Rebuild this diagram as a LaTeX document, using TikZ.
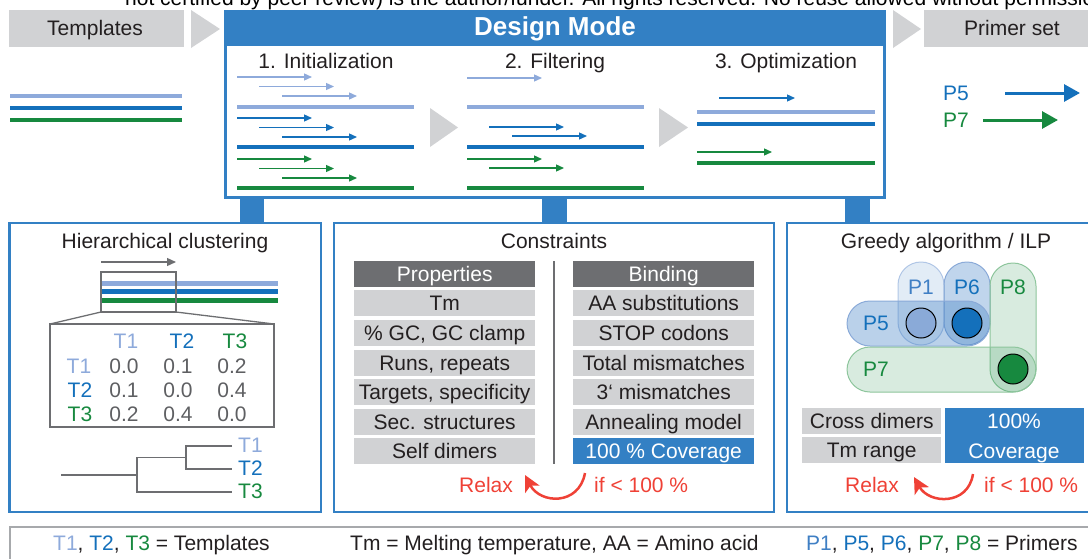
\documentclass[tikz,border=0pt]{standalone}
\usepackage{fontspec}
\setmainfont{Liberation Sans}
\usetikzlibrary{arrows.meta}
\definecolor{lblue}{HTML}{8EAADB}
\definecolor{dblue}{HTML}{1470BB}
\definecolor{tgreen}{HTML}{17893F}
\definecolor{boxblue}{HTML}{3380C4}
\definecolor{lgray}{HTML}{D1D2D4}
\definecolor{dgray}{HTML}{6D6E71}
\definecolor{numgray}{HTML}{5E5F62}
\definecolor{tdark}{HTML}{231F20}
\definecolor{relaxred}{HTML}{EF4136}
\definecolor{pblue}{HTML}{3F7FC4}
\definecolor{pborder}{HTML}{8AAAD8}
\definecolor{p1border}{HTML}{B0C6E6}
\definecolor{gborder}{HTML}{8DC59C}
\definecolor{footgray}{HTML}{A7A9AC}
\begin{document}
\begin{tikzpicture}[x=1pt,y=-1pt,
  every node/.style={inner sep=0pt, font=\fontsize{21}{25}\selectfont, text=tdark},
  lbl/.style={anchor=base},
  lblw/.style={anchor=base west},
  cell/.style={fill=lgray, minimum width=181pt, minimum height=26pt, text height=15pt, text depth=0pt, anchor=north west},
  headcell/.style={cell, fill=dgray, text=white},
  bluecell/.style={cell, fill=boxblue, text=white},
  tmpl/.style={line width=4.5pt},
  primer/.style={line width=1.3pt, -{Triangle[length=8pt,width=7pt]}},
  bigprimer/.style={line width=3pt, -{Triangle[length=16pt,width=17pt]}},
  panel/.style={draw=boxblue, line width=2.5pt},
  stub/.style={fill=boxblue},
  gline/.style={draw=dgray, line width=1.3pt},
  relaxarrow/.style={draw=relaxred, line width=2.5pt, -{Stealth[length=16pt,width=16pt,inset=4pt]}},
  redtxt/.style={anchor=base west, text=relaxred},
  blob/.style={rounded corners=23pt, line width=1pt},
]
\useasboundingbox (0,0) rectangle (1088,558);

% cropped header text
\begin{scope}
\clip (0,0) rectangle (1088,9);
\node[lblw, text=black] (wm) at (125,5.5) {not certified by peer review) is the author/funder. All rights reserved. No reuse allowed without permission.};
\end{scope}

% ---------- top row ----------
\fill[lgray] (9,10) rectangle (184,47);
\node[lbl] (templates) at (95,35) {Templates};
\fill[lgray] (191,10) -- (220,29) -- (191,48) -- cycle;
\fill[lgray] (893,10) -- (921,29) -- (893,48) -- cycle;
\fill[lgray] (924,10) rectangle (1100,47);
\node[lbl] (primerset) at (1012,35) {Primer set};

% template lines
\draw[tmpl, lblue] (10,96) -- (182,96);
\draw[tmpl, dblue] (10,108) -- (182,108);
\draw[tmpl, tgreen] (10,120) -- (182,120);

% design mode box
\draw[boxblue, line width=3pt] (225,11) rectangle (884,197);
\fill[boxblue] (224,10) rectangle (885,46);
\node[lbl, text=white, font=\fontsize{26}{30}\selectfont\bfseries] (design) at (555,35) {Design Mode};
\node[lbl] (init) at (326,68) {1. Initialization};
\node[lbl] (filt) at (555,68) {2. Filtering};
\node[lbl] (opti) at (786,68) {3. Optimization};

% initialization
\foreach \c/\y in {lblue/77, dblue/118, tgreen/159}{
  \draw[primer, \c] (237,\y) -- (312,\y);
  \draw[primer, \c] (259,\y+9.5) -- (334,\y+9.5);
  \draw[primer, \c] (282,\y+19) -- (357,\y+19);
}
\draw[tmpl, lblue] (237,107) -- (414,107);
\draw[tmpl, dblue] (237,147) -- (414,147);
\draw[tmpl, tgreen] (237,188) -- (414,188);

% filtering
\fill[lgray] (430,108) -- (458,127.5) -- (430,147) -- cycle;
\draw[primer, lblue] (467,78) -- (542,78);
\draw[primer, dblue] (489,127) -- (564,127);
\draw[primer, dblue] (512,136) -- (587,136);
\draw[primer, tgreen] (467,159) -- (542,159);
\draw[primer, tgreen] (489,168) -- (564,168);
\draw[tmpl, lblue] (467,107) -- (644,107);
\draw[tmpl, dblue] (467,147) -- (644,147);
\draw[tmpl, tgreen] (467,188) -- (644,188);

% optimization
\fill[lgray] (659,108) -- (688,127.5) -- (659,147) -- cycle;
\draw[primer, dblue] (719,98) -- (795,98);
\draw[primer, tgreen] (697,152) -- (772,152);
\draw[tmpl, lblue] (697,112) -- (875,112);
\draw[tmpl, dblue] (697,124) -- (875,124);
\draw[tmpl, tgreen] (697,163) -- (875,163);

% primer set
\node[lblw, text=dblue] (ps5) at (943,100) {P5};
\node[lblw, text=tgreen] (ps7) at (943,127) {P7};
\draw[bigprimer, dblue] (1005,93) -- (1080,93);
\draw[bigprimer, tgreen] (983,120) -- (1058,120);

% stubs
\fill[stub] (240,196) rectangle (264,224);
\fill[stub] (542,196) rectangle (567,224);
\fill[stub] (845,196) rectangle (870,224);

% ---------- panels ----------
\draw[panel] (9.5,223) rectangle (321,512);
\draw[panel] (334,223) rectangle (774,512);
\draw[panel] (787,223) rectangle (1100,512);

% left panel
\node[lbl] (hc) at (165,248) {Hierarchical clustering};
\draw[gline, -{Triangle[length=9pt,width=8pt]}] (101,262) -- (176,262);
\draw[tmpl, line width=5pt, lblue] (101,283) -- (278,283);
\draw[tmpl, line width=5pt, dblue] (101,291.5) -- (278,291.5);
\draw[tmpl, line width=5pt, tgreen] (101,300) -- (278,300);
\draw[gline] (101,272) rectangle (176,312);
\draw[gline] (101,312) -- (50,324);
\draw[gline] (176,312) -- (274,324);
\draw[gline] (50,324) rectangle (274,427);
\node[lbl, text=lblue] (h1) at (126,348) {T1};
\node[lbl, text=dblue] (h2) at (182,348) {T2};
\node[lbl, text=tgreen] (h3) at (235,348) {T3};
\node[lbl, text=lblue] (r1) at (79,373) {T1};
\node[lbl, text=dblue] (r2) at (80,397) {T2};
\node[lbl, text=tgreen] (r3) at (80,421) {T3};
\node[lbl, text=numgray] (v11) at (124,373) {0.0};
\node[lbl, text=numgray] (v12) at (178,373) {0.1};
\node[lbl, text=numgray] (v13) at (232,373) {0.2};
\node[lbl, text=numgray] (v21) at (124,397) {0.1};
\node[lbl, text=numgray] (v22) at (178,397) {0.0};
\node[lbl, text=numgray] (v23) at (232,397) {0.4};
\node[lbl, text=numgray] (v31) at (124,421) {0.2};
\node[lbl, text=numgray] (v32) at (178,421) {0.4};
\node[lbl, text=numgray] (v33) at (232,421) {0.0};
% dendrogram
\draw[gline] (61,475) -- (137,475);
\draw[gline] (232,446) -- (186,446) -- (186,469) -- (232,469);
\draw[gline] (186,457.5) -- (137,457.5) -- (137,492) -- (232,492);
\node[lblw, text=lblue] (d1) at (238,452) {T1};
\node[lblw, text=dblue] (d2) at (238,475) {T2};
\node[lblw, text=tgreen] (d3) at (238,498) {T3};

% middle panel
\node[lbl] (cons) at (554,248) {Constraints};
\node[headcell] (prop) at (354,261) {Properties};
\node[cell] (c1) at (354,290) {Tm};
\node[cell] (c2) at (354,320) {\% GC, GC clamp};
\node[cell] (c3) at (354,349.5) {Runs, repeats};
\node[cell] (c4) at (354,379) {Targets, specificity};
\node[cell] (c5) at (354,408.5) {Sec. structures};
\node[cell] (c6) at (354,438) {Self dimers};
\node[headcell] (bind) at (573,261) {Binding};
\node[cell] (b1) at (573,290) {AA substitutions};
\node[cell] (b2) at (573,320) {STOP codons};
\node[cell] (b3) at (573,349.5) {Total mismatches};
\node[cell] (b4) at (573,379) {3‘ mismatches};
\node[cell] (b5) at (573,408.5) {Annealing model};
\node[bluecell] (b6) at (573,438) {100 \% Coverage};
\draw[dgray, line width=2pt] (554,261) -- (554,464);
\node[redtxt] (relax1) at (459,492) {Relax};
\node[redtxt] (if1) at (594,492) {if < 100 \%};
\coordinate (r1s) at (585,473);
\coordinate (r1e) at (525,475);
\draw[relaxarrow] (r1s) .. controls (579,506) and (540,504) .. (r1e);

% right panel
\node[lbl] (greedy) at (946,248) {Greedy algorithm / ILP};
\filldraw[blob, fill=pblue, fill opacity=0.15, draw=p1border] (898,262) rectangle (944,345);
\filldraw[blob, fill=pblue, fill opacity=0.33, draw=pborder] (944,262) rectangle (990,345);
\filldraw[blob, fill=pblue, fill opacity=0.36, draw=pborder] (847,301) rectangle (990,346);
\filldraw[blob, fill=tgreen, fill opacity=0.17, draw=gborder] (990,263) rectangle (1036,392);
\filldraw[blob, fill=tgreen, fill opacity=0.17, draw=gborder] (847,347) rectangle (1036,392);
\node[lbl, text=pblue] (gp1) at (921,294) {P1};
\node[lbl, text=dblue] (gp6) at (967,294) {P6};
\node[lbl, text=tgreen] (gp8) at (1013,294) {P8};
\node[lbl, text=dblue] (gp5) at (876,330) {P5};
\node[lbl, text=tgreen] (gp7) at (876,376) {P7};
\filldraw[fill=pborder, draw=black, line width=1pt] (921,323) circle (15);
\filldraw[fill=dblue, draw=black, line width=1pt] (967,323) circle (15);
\filldraw[fill=tgreen, draw=black, line width=1pt] (1013,369) circle (15);
\node[cell, minimum width=139pt] (cd) at (802,408) {Cross dimers};
\node[cell, minimum width=139pt] (tmr) at (802,437) {Tm range};
\fill[boxblue] (945,408) rectangle (1084,463);
\node[lbl, text=white] (cov1) at (1014,428) {100\%};
\node[lbl, text=white] (cov2) at (1014,458) {Coverage};
\node[redtxt] (relax2) at (845,492) {Relax};
\node[redtxt] (if2) at (984,492) {if < 100 \%};
\coordinate (r2s) at (973,474);
\coordinate (r2e) at (914,477);
\draw[relaxarrow] (r2s) .. controls (968,506) and (929,504) .. (r2e);

% ---------- footer ----------
\draw[footgray, line width=1.5pt] (10,600) -- (10,527) -- (1100,527);
\node[lblw] (f1) at (53,550) {\textcolor{lblue}{T1}, \textcolor{dblue}{T2}, \textcolor{tgreen}{T3} = Templates};
\node[lblw] (f2) at (350,550) {Tm = Melting temperature, AA = Amino acid};
\node[lblw] (f3) at (806,550) {\textcolor{pblue}{P1}, \textcolor{dblue}{P5}, \textcolor{dblue}{P6}, \textcolor{tgreen}{P7}, \textcolor{tgreen}{P8} = Primers};
\end{tikzpicture}
\end{document}
